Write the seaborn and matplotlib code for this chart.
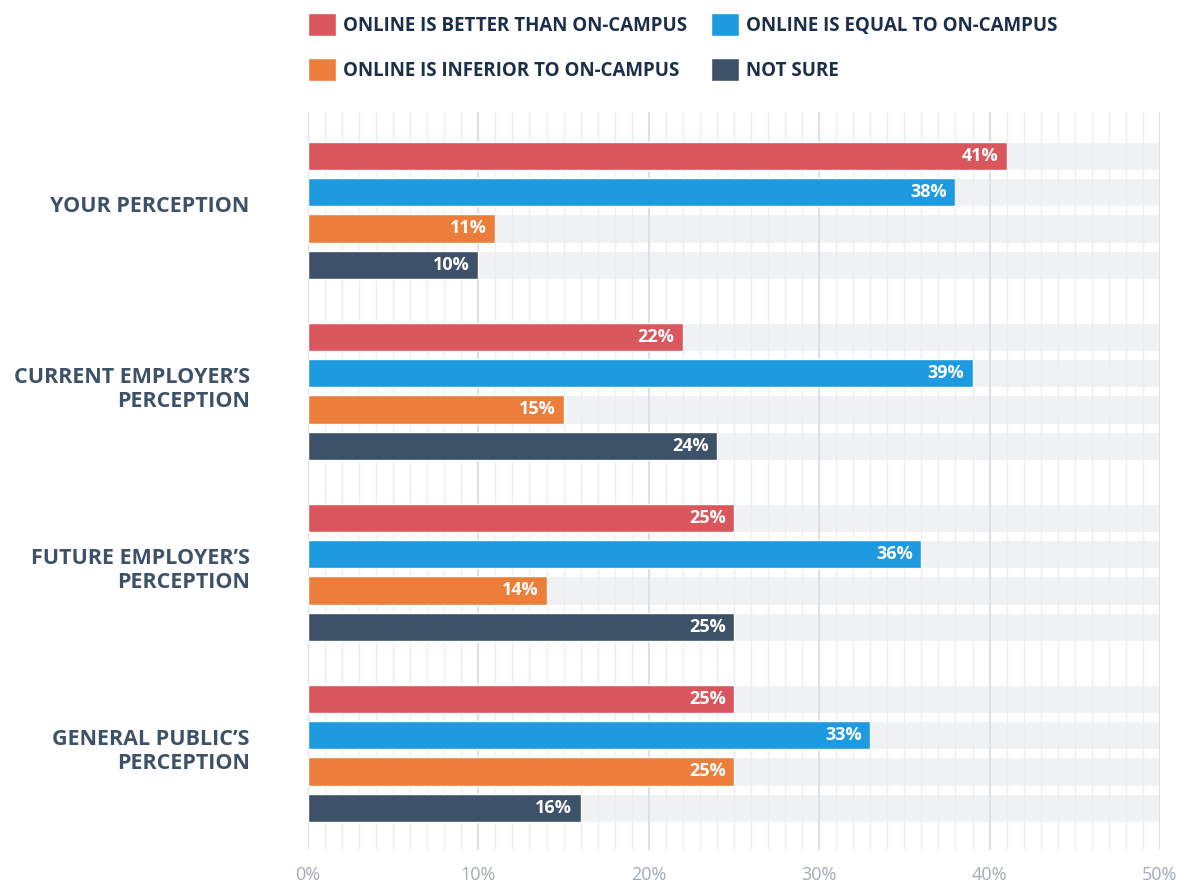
import pandas as pd
import seaborn as sns
import matplotlib.pyplot as plt
from matplotlib.ticker import MultipleLocator, PercentFormatter
from matplotlib.transforms import ScaledTranslation

groups = ["YOUR PERCEPTION", "CURRENT EMPLOYER’S\nPERCEPTION",
          "FUTURE EMPLOYER’S\nPERCEPTION", "GENERAL PUBLIC’S\nPERCEPTION"]
responses = ["ONLINE IS BETTER THAN ON-CAMPUS", "ONLINE IS EQUAL TO ON-CAMPUS",
             "ONLINE IS INFERIOR TO ON-CAMPUS", "NOT SURE"]
better = [41, 22, 25, 25]
equal = [38, 39, 36, 33]
inferior = [11, 15, 14, 25]
not_sure = [10, 24, 25, 16]
scale_max = 50

colors = ["#d9575c", "#1e9be0", "#ed7d3a", "#3d5168"]

rows = []
for resp, vals in zip(responses, [better, equal, inferior, not_sure]):
    for g, v in zip(groups, vals):
        rows.append({"group": g, "response": resp, "value": v})
df = pd.DataFrame(rows)

# grey track behind each bar
track = df.copy()
track["value"] = scale_max

sns.set_style("white")
plt.rcParams["font.family"] = ["Open Sans", "DejaVu Sans"]

fig, ax = plt.subplots(figsize=(11.84, 8.88), dpi=100)
fig.subplots_adjust(left=0.2601, right=0.9797, top=0.874, bottom=0.043)

sns.barplot(data=track, y="group", x="value", hue="response", hue_order=responses,
            order=groups, palette=["#f0f1f3"] * 4, orient="h", gap=0.22,
            saturation=1, errorbar=None, legend=False, zorder=0.2, ax=ax)
sns.barplot(data=df, y="group", x="value", hue="response", hue_order=responses,
            order=groups, palette=colors, orient="h", gap=0.22,
            saturation=1, errorbar=None, zorder=2, ax=ax)

# value labels inside bar ends
for cont in ax.containers[4:]:
    texts = ax.bar_label(cont, labels=[f"{int(b.get_width())}%" for b in cont],
                         padding=-6, color="white", fontsize=13, fontweight="bold")
    for t in texts:
        t.set_ha("right")

ax.set_xlim(0, scale_max)
ax.set_ylim(3.533, -0.544)
ax.xaxis.set_major_locator(MultipleLocator(10))
ax.xaxis.set_minor_locator(MultipleLocator(1))
ax.xaxis.set_major_formatter(PercentFormatter(decimals=0))
ax.set_axisbelow(True)
ax.grid(axis="x", which="minor", color="#eceef0", lw=1)
ax.grid(axis="x", which="major", color="#dde1e6", lw=1.5)
ax.grid(axis="y", visible=False)
ax.tick_params(axis="x", which="both", length=0, pad=12, labelsize=13, labelcolor="#a3abb5")
ax.tick_params(axis="y", length=0, pad=42, labelsize=15.5, labelcolor="#3d5168")
shift_up = ScaledTranslation(0, 4.5 / 72, fig.dpi_scale_trans)
for lab in ax.get_yticklabels():
    lab.set_fontweight("bold")
    lab.set_linespacing(1.2)
    lab.set_transform(lab.get_transform() + shift_up)
ax.set_xlabel("")
ax.set_ylabel("")
sns.despine(ax=ax, left=True, bottom=True)

handles, labels = ax.get_legend_handles_labels()
ax.get_legend().remove()
order = [0, 2, 1, 3]
leg = fig.legend([handles[i] for i in order], [labels[i] for i in order],
                 loc="upper left", bbox_to_anchor=(0.2601, 0.985), ncol=2,
                 frameon=False, borderpad=0, borderaxespad=0,
                 handlelength=1.5, handleheight=1.5, handletextpad=0.37,
                 columnspacing=1.28, labelspacing=1.17,
                 prop={"size": 13.5, "weight": "bold"})
for t in leg.get_texts():
    t.set_color("#1b2f4b")

fig.savefig("out.png", dpi=100)
